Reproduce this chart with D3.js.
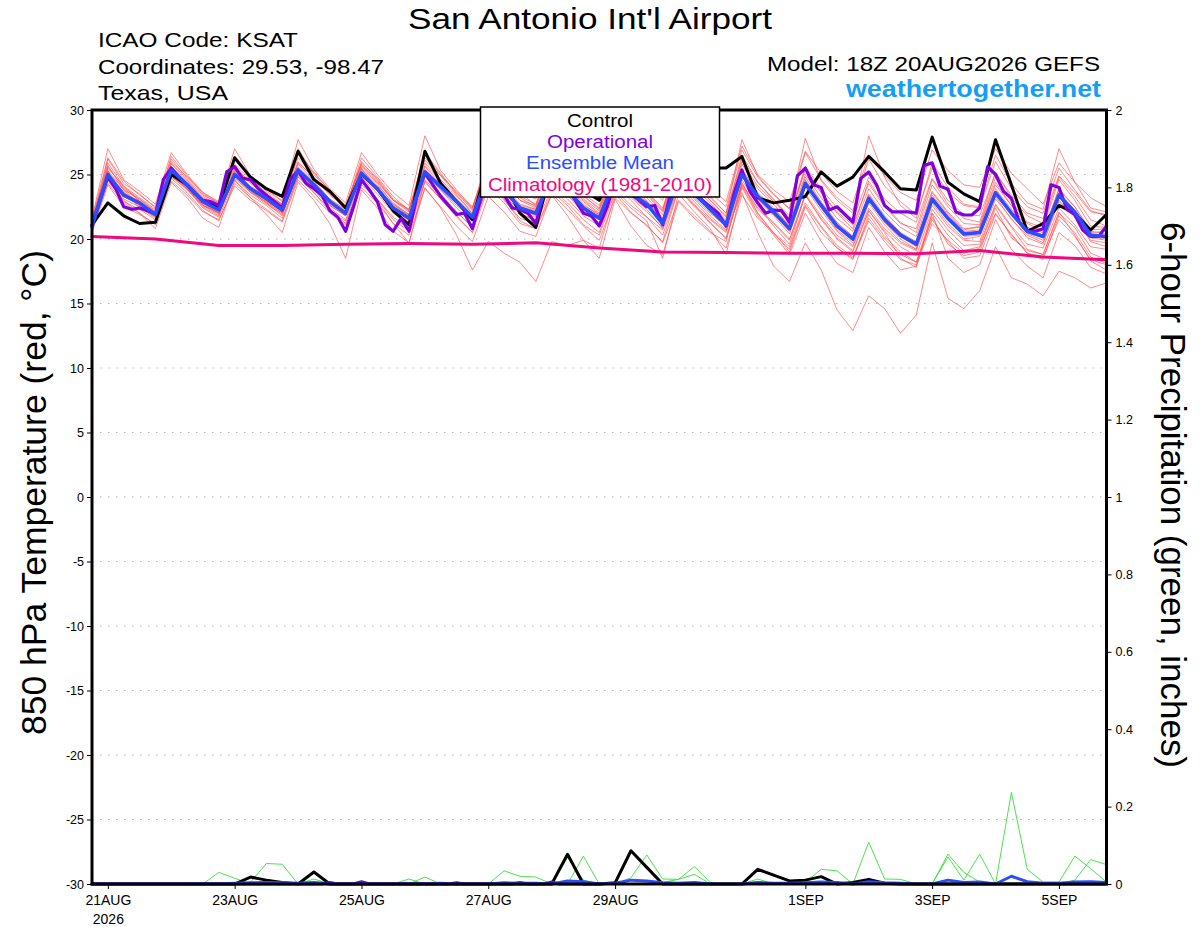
<!DOCTYPE html>
<html>
<head>
<meta charset="utf-8">
<script src="https://cdn.jsdelivr.net/npm/d3@7"></script>
<style>
  html, body { margin: 0; padding: 0; background: #fff; }
  svg { display: block; font-family: "Liberation Sans", Arial, Helvetica, sans-serif; }
</style>
</head>
<body>
<svg id="chart" width="1200" height="927"></svg>
<script>
// ---------------- DATA ----------------
// 6-hourly steps from 18Z 20AUG2026 (index 0) to 384 h (index 64)
const stepHours = 6;
const xTickHours = [6, 54, 102, 150, 198, 270, 318, 366];
const xTickLabels = ["21AUG", "23AUG", "25AUG", "27AUG", "29AUG", "1SEP", "3SEP", "5SEP"];
const yearLabel = "2026";
const tempTicks = [-30, -25, -20, -15, -10, -5, 0, 5, 10, 15, 20, 25, 30];
const precipTicks = [0, 0.2, 0.4, 0.6, 0.8, 1, 1.2, 1.4, 1.6, 1.8, 2];

const controlTemp = [21.1, 22.8, 21.8, 21.2, 21.3, 25.0, 24.2, 22.9, 22.5, 26.3, 24.8, 23.9, 23.3, 26.8, 24.6, 23.7, 22.4,
  25.0, 23.9, 22.2, 21.1, 26.8, 24.3, 22.9, 21.5, 26.0, 24.4, 22.0, 20.9, 25.5, 24.5, 23.8, 23.0, 25.8, 25.0, 24.3, 23.5,
  25.8, 25.6, 25.5, 25.5, 26.4, 23.2, 22.8, 23.0, 23.3, 25.2, 24.1, 24.8, 26.4, 25.2, 23.9, 23.8, 27.9, 24.4, 23.5, 22.9,
  27.7, 24.2, 20.6, 21.2, 22.6, 22.0, 20.7, 21.9];

// operational run is 3-hourly (129 values)
const operationalTemp = [21.0, 23.0, 24.8, 23.9, 22.5, 22.3, 22.4, 22.2, 21.9, 24.6, 25.5, 24.8, 24.2, 23.5, 23.0, 22.9, 22.6,
  25.2, 25.6, 24.7, 24.6, 23.9, 23.4, 22.9, 22.4, 24.6, 25.3, 24.3, 23.9, 23.4, 22.2, 21.7, 20.6,
  22.5, 24.6, 23.8, 22.9, 21.1, 20.6, 21.6, 20.6, 23.3, 25.1, 24.2, 23.3, 22.6, 21.9, 22.0, 20.8,
  23.0, 25.5, 24.5, 23.4, 22.4, 22.3, 22.0, 21.2, 23.5, 25.0, 24.5, 24.0, 23.0, 22.0, 21.8, 21.0,
  22.5, 24.5, 24.0, 23.5, 23.0, 22.5, 22.6, 21.1, 23.5, 25.0, 24.5, 23.8, 23.0, 22.5, 22.0, 21.0,
  23.5, 25.35, 23.7, 22.8, 22.0, 22.25, 22.2, 21.3, 24.9, 25.5, 24.2, 24.0, 22.25, 22.5, 21.9, 21.3,
  24.7, 25.2, 24.2, 22.6, 22.1, 22.1, 22.1, 22.0, 25.7, 25.9, 24.1, 23.85, 22.1, 21.86, 21.86, 22.4,
  25.6, 25.0, 23.7, 23.15, 21.3, 20.6, 20.6, 20.8, 24.2, 24.0, 22.3, 21.9, 20.7, 20.2, 20.2, 21.0];

const meanTemp = [21.0, 25.0, 23.4, 22.8, 21.9, 25.35, 24.2, 22.9, 22.25, 25.0, 23.9, 23.15, 22.25, 25.35, 24.2, 22.9, 22.0,
  25.1, 23.9, 22.4, 21.6, 25.2, 24.05, 22.9, 21.7, 25.0, 23.8, 22.4, 22.0, 24.8, 23.8, 22.4, 21.6, 24.7, 23.5, 22.7, 21.2,
  24.7, 23.5, 22.3, 21.1, 25.0, 23.3, 22.1, 20.8, 24.3, 22.6, 21.0, 20.0, 23.15, 21.5, 20.3, 19.6, 23.1, 21.6, 20.4, 20.5,
  23.6, 22.0, 20.6, 20.2, 23.4, 22.1, 20.3, 20.2];

// climatology (1981-2010), daily values
const climoTemp = [20.2, 20.0, 19.5, 19.5, 19.6, 19.65, 19.6, 19.7, 19.3, 19.0, 18.95, 18.9, 18.9, 18.85, 19.1, 18.6, 18.4];

const member01 = [21.2, 26.2,24.3,23.5,22.4, 26.0,24.8,23.6,22.8, 25.8,24.6,23.9,22.9, 26.3,25.1,23.8,22.6, 25.9,24.7,23.1,22.3, 26.5,25.0,23.6,22.4, 26.0,24.7,23.2,22.5, 25.6,24.5,23.3,22.4, 25.8,24.4,23.6,22.3, 25.9,24.6,23.2,22.0, 26.2,24.4,23.0,21.8, 25.6,23.9,22.4,21.5, 24.8,23.1,22.0,21.3, 24.7,23.0,21.9,21.8, 25.1,23.4,22.0,21.6, 24.9,23.6,22.1,21.9];
const member02 = [20.8, 24.5,22.9,22.3,21.5, 24.8,23.9,22.4,21.7, 24.5,23.4,22.6,21.6, 24.8,23.6,22.3,21.2, 24.4,23.1,21.7,20.8, 24.6,23.3,22.1,20.9, 24.2,23.0,21.6,21.2, 23.9,22.8,21.5,20.5, 23.8,22.6,21.7,20.3, 23.9,22.5,21.3,20.0, 24.2,22.3,21.2,19.9, 23.4,21.6,20.1,19.1, 22.2,20.6,19.4,18.7, 22.3,20.7,19.5,19.6, 22.7,21.0,19.6,19.3, 22.4,21.1,19.4,19.2];
const member03 = [21.4, 25.6,24.0,23.1,22.2, 25.8,24.5,23.3,22.6, 25.7,24.3,23.4,22.7, 25.9,24.8,23.5,22.6, 25.7,24.4,23.0,22.3, 26.1,24.9,23.7,22.5, 25.9,24.9,23.6,23.1, 26.0,25.0,23.9,23.2, 26.3,25.1,24.2,23.0, 26.4,25.2,24.0,22.9, 27.2,25.0,23.8,22.9, 26.8,25.1,23.7,22.8, 26.5,24.9,23.6,23.0, 26.9,25.3,24.2,24.0, 27.0,25.1,23.9,22.7, 25.9,24.4,23.2,22.5];
const member04 = [20.5, 24.2,22.5,21.9,21.2, 24.5,23.4,22.1,21.5, 24.1,23.0,22.2,21.3, 24.6,23.3,22.0,21.1, 24.0,22.8,21.2,20.3, 23.9,22.5,21.0,19.8, 23.3,22.1,20.6,20.2, 23.5,22.3,21.0,19.9, 23.2,22.0,21.1,19.7, 23.0,21.8,20.6,19.3, 23.4,21.6,20.5,19.4, 22.8,21.0,19.5,18.6, 21.6,20.0,18.8,18.2, 21.5,19.8,18.5,18.7, 21.9,20.4,18.9,18.4, 21.8,20.5,18.6,18.1];
const member05 = [21.0, 25.3,23.9,23.0,22.1, 25.5,24.3,22.8,22.0, 25.2,24.1,23.3,22.4, 25.1,24.0,22.6,21.8, 25.4,24.2,22.8,21.9, 25.6,24.3,23.0,21.5, 25.3,24.0,22.6,22.3, 24.9,24.1,22.7,21.8, 25.0,23.7,22.9,21.6, 24.5,23.2,22.0,21.0, 25.4,23.6,22.4,21.0, 24.6,22.8,21.2,20.2, 23.4,21.7,20.5,19.5, 23.6,22.0,20.7,21.0, 24.4,22.6,21.2,20.6, 23.8,22.5,20.7,20.8];
const member06 = [20.9, 25.1,23.6,22.9,22.0, 25.1,24.0,22.6,22.1, 24.9,23.7,23.0,22.1, 25.5,24.3,23.0,22.1, 25.0,23.8,22.2,21.5, 25.0,23.8,22.6,21.6, 24.8,23.5,22.1,21.7, 24.4,23.4,22.0,21.3, 24.2,23.2,22.1,20.9, 24.1,22.9,21.6,20.6, 23.6,20.5,17.9,16.7, 19.7,17.6,14.5,12.9, 15.6,14.6,12.7,14.1, 19.7,15.4,14.6,16.0, 19.4,17.0,16.5,15.6, 17.5,17.0,16.2,16.6];
const member07 = [21.1, 24.8,23.3,22.6,21.8, 25.0,23.9,22.7,22.0, 24.8,23.6,22.7,21.9, 25.2,23.8,22.4,21.5, 24.6,23.0,21.2,19.7, 24.0,22.4,20.3,17.6, 19.8,18.9,18.2,16.7, 19.8,19.5,19.9,19.3, 23.5,22.1,21.0,19.8, 23.9,22.6,21.5,20.5, 24.3,22.4,21.3,20.0, 23.5,21.8,20.3,19.4, 22.4,20.8,19.7,19.1, 22.6,21.0,19.9,19.8, 23.1,21.6,20.1,19.6, 22.9,21.7,19.9,19.7];
const member08 = [21.3, 25.9,24.1,23.2,22.3, 26.4,24.9,23.5,22.7, 26.1,24.8,23.5,22.6, 26.7,25.2,23.7,22.3, 26.0,24.6,23.0,22.1, 26.3,24.9,23.4,22.0, 25.7,24.4,23.0,22.6, 25.8,24.6,23.1,22.2, 25.5,24.2,23.4,22.1, 25.6,24.3,23.0,21.8, 26.5,24.4,23.1,21.6, 25.5,23.6,22.0,20.8, 24.5,22.6,21.3,20.5, 24.2,22.5,21.2,21.1, 24.8,22.9,21.3,20.9, 24.6,23.0,21.0,20.9];
const member09 = [20.6, 24.6,23.0,22.0,20.8, 24.4,23.2,21.6,20.9, 24.6,23.2,21.9,20.5, 24.4,23.0,21.2,18.5, 23.8,22.4,20.6,19.7, 24.5,23.1,21.7,20.5, 24.5,23.1,21.4,20.8, 23.4,21.8,19.9,18.5, 23.1,21.0,19.5,18.8, 22.9,21.6,20.5,19.8, 24.4,22.0,20.4,19.2, 22.6,20.9,19.3,18.4, 21.9,20.2,19.0,18.2, 22.0,20.3,19.1,19.4, 22.6,20.9,19.2,18.8, 22.0,20.9,18.9,18.4];
const member10 = [21.6, 27.0,24.6,23.7,22.7, 26.7,25.0,23.6,22.9, 27.0,24.9,23.7,23.0, 27.7,25.4,23.9,22.8, 26.7,25.0,23.6,22.6, 28.0,25.3,23.8,22.4, 26.4,25.2,23.6,22.6, 26.2,25.0,23.4,22.3, 26.0,24.8,23.5,22.2, 26.2,24.9,23.3,22.0, 27.7,24.9,23.5,22.3, 27.8,24.5,23.0,22.0, 28.0,24.8,22.6,21.6, 25.9,24.0,22.7,22.5, 26.5,24.3,22.8,22.3, 27.0,24.4,22.4,22.1];
const member11 = [20.7, 24.9,23.7,22.4,21.7, 25.2,24.1,22.9,22.3, 25.1,23.8,23.0,22.1, 25.0,24.0,22.7,21.9, 25.2,23.9,22.5,21.4, 25.4,24.2,22.8,21.8, 25.1,23.6,22.3,21.9, 24.7,23.6,22.2,21.5, 24.6,23.4,22.5,21.3, 24.8,23.5,22.1,20.9, 24.9,23.0,21.8,20.4, 24.0,22.2,20.6,19.5, 22.8,21.1,19.8,19.2, 22.8,21.2,20.0,20.2, 23.3,21.5,20.3,19.7, 23.0,21.7,19.8,19.4];
const member12 = [21.2, 25.5,24.1,22.9,21.9, 25.4,24.3,23.0,22.4, 25.3,24.0,22.9,22.2, 25.6,24.4,23.1,22.3, 25.5,23.9,22.7,21.9, 25.2,24.0,23.0,21.8, 25.1,23.9,22.5,22.0, 25.1,23.9,22.6,21.9, 24.9,23.6,22.9,21.5, 24.9,23.8,22.5,21.4, 25.3,23.5,22.3,21.1, 24.8,22.9,21.3,20.2, 23.5,21.8,20.5,19.8, 23.4,21.9,20.6,20.7, 23.9,22.3,20.9,20.3, 23.6,22.2,20.6,20.4];
const member13 = [20.9, 25.0,23.4,22.6,21.9, 25.3,23.9,22.5,21.8, 25.0,23.7,22.8,22.0, 25.2,24.1,22.9,22.0, 24.9,23.7,22.2,21.3, 25.1,23.8,22.4,21.4, 24.8,23.4,21.9,21.5, 24.3,23.1,21.8,21.0, 24.3,23.0,21.7,20.7, 24.0,22.7,21.2,20.1, 24.1,22.0,20.5,19.0, 22.5,20.5,19.3,18.5, 21.4,19.8,18.4,18.0, 21.7,19.6,18.7,19.0, 22.4,20.1,19.1,18.8, 22.1,20.3,18.3,17.6];
const member14 = [21.0, 25.3,23.1,22.5,21.6, 25.9,24.6,23.1,22.3, 25.4,24.0,23.2,22.5, 25.8,24.5,23.1,22.2, 25.6,24.3,22.7,21.8, 25.7,24.5,23.1,22.0, 25.4,24.1,22.7,22.3, 25.1,24.0,22.9,21.9, 25.2,23.9,23.0,21.6, 25.3,24.0,22.8,21.5, 25.8,23.9,22.7,21.3, 25.0,23.2,21.6,20.6, 23.9,22.1,20.9,20.2, 23.7,22.1,20.8,20.9, 24.2,22.6,20.9,20.5, 23.9,22.5,20.5,20.6];
const member15 = [20.8, 24.7,23.3,22.7,21.8, 24.9,23.8,22.6,22.0, 24.7,23.6,22.9,22.0, 25.0,23.9,22.6,21.8, 24.8,23.5,22.0,21.1, 24.9,23.5,22.1,20.9, 24.4,23.3,22.0,21.4, 24.6,23.5,22.1,21.2, 24.4,23.3,22.3,20.8, 24.5,23.1,21.8,20.7, 24.6,22.6,21.0,19.6, 23.4,21.5,20.0,19.0, 22.2,20.5,18.5,17.8, 22.0,18.5,17.4,18.0, 21.5,19.2,17.9,17.0, 20.5,19.5,17.8,17.3];
const member16 = [21.1, 25.7,23.8,23.1,22.1, 25.6,24.4,23.2,22.5, 25.5,24.4,23.5,22.6, 26.0,24.7,23.4,22.5, 25.8,24.5,23.0,22.2, 25.9,24.6,23.3,22.2, 25.6,24.4,23.0,22.4, 25.3,24.2,23.0,22.0, 25.6,24.2,23.2,21.9, 25.5,24.3,23.0,21.7, 26.0,24.1,22.9,21.6, 25.4,23.6,22.1,21.1, 24.3,22.5,21.2,20.8, 24.6,22.7,21.6,21.3, 25.2,23.2,21.8,21.2, 24.8,23.3,21.5,21.0];
const member17 = [20.7, 24.3,22.8,22.0,21.1, 24.7,23.6,22.2,21.4, 24.3,23.2,22.3,21.4, 24.9,23.6,22.1,21.4, 24.2,23.1,21.5,20.6, 24.4,23.1,21.8,20.5, 24.0,22.8,21.2,20.8, 23.7,22.6,21.1,20.3, 23.6,22.4,21.4,18.5, 23.5,22.1,20.8,18.8, 24.0,21.8,20.3,18.8, 22.0,19.8,18.1,17.4, 20.9,19.0,17.6,17.9, 21.2,19.9,18.9,19.3, 22.0,20.3,18.9,18.6, 21.5,20.2,18.4,18.0];
const member18 = [21.5, 26.3,24.5,23.4,22.5, 26.2,24.7,23.4,22.8, 26.4,24.6,23.6,22.7, 27.0,25.0,23.6,22.4, 26.3,24.8,23.3,22.2, 26.7,25.1,23.5,22.3, 26.2,24.7,23.3,22.7, 26.0,24.8,23.5,22.6, 25.9,24.7,23.7,22.4, 26.1,24.9,23.6,22.5, 26.9,24.8,23.4,22.4, 26.7,24.6,23.2,22.2, 26.2,24.1,22.9,21.9, 25.5,23.6,22.6,22.4, 26.0,23.9,22.5,22.0, 25.5,23.8,22.2,21.8];
const member19 = [21.0, 25.0,23.5,22.8,22.0, 25.2,24.1,22.8,22.2, 24.9,23.9,23.0,22.3, 25.3,24.3,22.9,22.1, 25.3,24.0,22.6,21.8, 25.3,24.1,22.9,21.9, 25.0,23.8,22.5,22.2, 24.9,23.8,22.5,21.7, 24.8,23.6,22.7,21.4, 24.7,23.6,22.4,21.2, 25.1,23.3,22.0,20.8, 24.5,22.7,21.0,20.1, 23.3,21.5,20.2,19.4, 23.2,21.6,20.3,20.4, 23.7,22.1,20.5,20.1, 23.3,22.0,20.2,20.0];
const member20 = [20.9, 25.2,23.8,22.7,21.9, 24.9,24.0,22.6,21.9, 25.0,23.8,22.8,21.8, 25.4,24.1,22.8,21.8, 25.1,23.8,22.4,21.5, 25.2,24.0,22.8,21.5, 25.2,23.6,22.3,21.8, 24.8,23.7,22.3,21.5, 24.6,23.5,22.6,21.5, 24.8,23.4,22.2,21.0, 25.0,23.1,21.9,20.6, 24.2,22.4,20.7,19.7, 23.0,21.3,20.0,19.2, 23.1,21.5,20.2,20.3, 23.5,21.9,20.4,19.9, 23.2,21.9,20.1,19.9];
const memberTemps = [member01, member02, member03, member04, member05, member06, member07, member08, member09, member10,
  member11, member12, member13, member14, member15, member16, member17, member18, member19, member20];

// 6-hour precipitation (inches)
const controlPrecip = [0,0,0,0,0, 0,0,0,0, 0,0.018,0.01,0.004, 0,0.031,0,0, 0,0,0,0, 0,0,0,0, 0,0,0,0, 0,0.077,0,0,
  0.003,0.086,0.043,0, 0,0,0,0, 0,0.038,0.023,0.008, 0.01,0.019,0,0.004, 0.012,0.002,0,0, 0,0,0,0, 0,0,0,0, 0,0,0,0];
const operationalPrecip = [0,0,0,0,0, 0,0,0,0, 0,0,0,0, 0,0,0,0, 0,0,0,0, 0,0,0,0, 0,0,0,0, 0,0.004,0,0,
  0,0.006,0,0, 0,0,0,0, 0,0,0,0, 0,0.003,0,0, 0,0,0,0, 0,0.004,0,0, 0,0.005,0,0, 0,0,0,0];
const meanPrecip = [0,0,0,0,0, 0,0,0,0, 0.002,0.003,0.004,0.003, 0.002,0.004,0,0, 0,0,0,0, 0,0.002,0,0, 0,0.003,0.002,0.002, 0,0.008,0.006,0,
  0.002,0.01,0.008,0.003, 0.002,0.004,0,0, 0,0.004,0.002,0.002, 0.003,0.005,0.004,0, 0.006,0.003,0.002,0, 0,0.01,0.004,0.005, 0,0.02,0.006,0.002, 0.002,0.005,0.006,0.004];
const precipMember01 = [0,0,0,0,0, 0,0,0,0.030, 0.015,0,0,0, 0,0,0,0, 0,0,0,0, 0,0,0,0, 0,0,0,0, 0,0,0,0,
  0,0.016,0.075,0.013, 0.012,0.045,0.004,0, 0,0,0,0, 0,0,0,0, 0,0,0,0, 0,0,0,0, 0,0,0,0, 0,0,0,0];
const precipMember02 = [0,0,0,0,0, 0,0,0,0, 0,0.005,0.053,0.051, 0,0,0,0, 0,0,0,0, 0,0,0,0, 0,0,0,0, 0,0,0,0,
  0,0,0,0.004, 0.012,0.025,0,0, 0,0,0,0, 0,0,0,0, 0,0,0,0, 0,0,0,0, 0,0,0,0, 0,0.01,0.063,0.05];
const precipMember03 = [0,0,0,0,0, 0,0,0,0, 0,0,0,0, 0,0.013,0,0, 0,0,0,0.013, 0,0,0,0, 0,0,0,0, 0,0,0,0,
  0,0,0,0, 0,0,0,0, 0,0.013,0,0, 0,0,0,0, 0,0,0,0, 0,0,0,0, 0,0,0,0, 0,0,0,0];
const precipMember04 = [0,0,0,0,0, 0,0,0,0, 0,0,0,0, 0,0,0,0, 0,0,0,0, 0.018,0,0,0, 0,0,0,0, 0,0,0,0,
  0,0,0,0, 0,0,0,0, 0,0,0,0, 0.004,0.038,0.034,0, 0,0,0,0, 0,0,0,0, 0,0,0,0, 0,0,0,0];
const precipMember05 = [0,0,0,0,0, 0,0,0,0, 0,0,0,0, 0,0,0,0, 0,0,0,0, 0,0,0,0, 0,0.034,0.02,0.018, 0,0,0,0,
  0,0,0,0, 0,0,0,0, 0,0,0,0, 0,0,0,0, 0.108,0.013,0.012,0, 0,0,0,0, 0,0,0,0, 0,0,0,0];
const precipMember06 = [0,0,0,0,0, 0,0,0,0, 0,0,0,0, 0,0,0,0, 0,0,0,0, 0,0,0,0, 0,0,0,0, 0,0.069,0.01,0,
  0,0,0,0, 0,0,0,0, 0,0,0,0, 0,0,0,0, 0,0,0,0, 0,0.077,0.03,0.005, 0,0,0,0, 0,0,0,0];
const precipMember07 = [0,0,0,0,0, 0,0,0,0, 0,0,0,0, 0,0,0,0, 0,0,0,0, 0,0,0,0, 0,0,0,0, 0,0,0.072,0,
  0,0,0,0, 0,0,0,0, 0,0,0,0, 0,0,0,0, 0,0,0,0, 0,0.07,0.01,0.077, 0,0,0,0, 0,0,0,0];
const precipMember08 = [0,0,0,0,0, 0,0,0,0, 0,0,0,0, 0,0,0,0, 0,0,0,0, 0,0,0,0, 0,0,0,0, 0,0,0,0,
  0,0,0,0, 0,0,0,0, 0,0,0,0, 0,0,0,0, 0,0,0,0, 0,0,0,0, 0,0.237,0.038,0.005, 0.005,0.072,0.04,0.005];
const memberPrecips = [precipMember01, precipMember02, precipMember03, precipMember04,
  precipMember05, precipMember06, precipMember07, precipMember08];

const legendItems = ["Control", "Operational", "Ensemble Mean", "Climatology (1981-2010)"];
const headLeft = ["ICAO Code: KSAT", "Coordinates: 29.53, -98.47", "Texas, USA"];

// ---------------- DRAWING ----------------
const svg = d3.select("#chart");
const plot = { left: 92, right: 1106.5, top: 110, bottom: 884 };

const x = d3.scaleLinear().domain([0, 384]).range([plot.left, plot.right]);
const yT = d3.scaleLinear().domain([-30, 30]).range([plot.bottom, plot.top]);
const yP = d3.scaleLinear().domain([0, 2]).range([plot.bottom, plot.top]);

const colors = {
  member: "#ff4a4a", precip: "#36e036", control: "#000000", oper: "#8000e0",
  mean: "#2a4dff", climo: "#f0087e", grid: "#b4b4b4", brand: "#169ef5"
};

// gridlines
svg.append("g").selectAll("line")
  .data(tempTicks.filter(t => t > -30 && t < 30))
  .join("line")
  .attr("x1", plot.left).attr("x2", plot.right)
  .attr("y1", d => yT(d)).attr("y2", d => yT(d))
  .attr("stroke", colors.grid).attr("stroke-width", 1.2)
  .attr("stroke-dasharray", "1.5,6.5");

const line6 = (scale) => d3.line().x((d, i) => x(i * stepHours)).y(d => scale(d));
const line3 = (scale) => d3.line().x((d, i) => x(i * 3)).y(d => scale(d));
const line24 = (scale) => d3.line().x((d, i) => x(i * 24)).y(d => scale(d));

const gPlot = svg.append("g");

// ensemble members (temperature)
gPlot.append("g").selectAll("path").data(memberTemps).join("path")
  .attr("d", line6(yT)).attr("fill", "none")
  .attr("stroke", colors.member).attr("stroke-opacity", 0.8).attr("stroke-width", 0.8)
  .attr("stroke-linejoin", "round");

// ensemble members (precip)
gPlot.append("g").selectAll("path").data(memberPrecips).join("path")
  .attr("d", line6(yP)).attr("fill", "none")
  .attr("stroke", colors.precip).attr("stroke-width", 0.9).attr("stroke-linejoin", "round");

function drawLine(data, gen, color, width) {
  gPlot.append("path").datum(data).attr("d", gen).attr("fill", "none")
    .attr("stroke", color).attr("stroke-width", width)
    .attr("stroke-linejoin", "round").attr("stroke-linecap", "round");
}
// precip control / operational / mean
drawLine(controlPrecip, line6(yP), colors.control, 3);
drawLine(operationalPrecip, line3(yP), colors.oper, 3);
drawLine(meanPrecip, line6(yP), colors.mean, 3);
// temperature control / operational / mean / climatology
drawLine(controlTemp, line6(yT), colors.control, 3);
drawLine(operationalTemp, line3(yT), colors.oper, 3.2);
drawLine(meanTemp, line6(yT), colors.mean, 3.6);
drawLine(climoTemp, line24(yT), colors.climo, 3);

// axes
const axisFont = "Liberation Sans, Arial, sans-serif";
const leftAxis = svg.append("g").attr("transform", `translate(${plot.left},0)`)
  .call(d3.axisLeft(yT).tickValues(tempTicks).tickFormat(d => String(d)).tickSizeInner(5).tickSizeOuter(0).tickPadding(3));
const rightAxis = svg.append("g").attr("transform", `translate(${plot.right},0)`)
  .call(d3.axisRight(yP).tickValues(precipTicks).tickFormat(d => String(+d.toFixed(1))).tickSizeInner(5).tickSizeOuter(0).tickPadding(4));
const bottomAxis = svg.append("g").attr("transform", `translate(0,${plot.bottom})`)
  .call(d3.axisBottom(x).tickValues(xTickHours).tickFormat((d, i) => xTickLabels[i]).tickSizeInner(5).tickSizeOuter(0).tickPadding(4));

[leftAxis, rightAxis, bottomAxis].forEach(a => {
  a.select(".domain").remove();
  a.selectAll(".tick line").attr("stroke", "#000").attr("stroke-width", 1);
  a.selectAll(".tick text").attr("fill", "#000").style("font-family", axisFont);
});
leftAxis.selectAll(".tick text").style("font-size", "12.5px");
rightAxis.selectAll(".tick text").style("font-size", "12.5px");
bottomAxis.selectAll(".tick text").style("font-size", "14px").attr("dy", "0.85em");
bottomAxis.selectAll(".tick").filter((d, i) => i === 0).append("text")
  .attr("y", 28).attr("dy", "0.85em").attr("fill", "#000").attr("text-anchor", "middle")
  .style("font-size", "14px").style("font-family", axisFont).text(yearLabel);

// frame
svg.append("rect").attr("x", plot.left).attr("y", plot.top)
  .attr("width", plot.right - plot.left).attr("height", plot.bottom - plot.top)
  .attr("fill", "none").attr("stroke", "#000").attr("stroke-width", 3);

// legend
const lg = svg.append("g");
lg.append("rect").attr("x", 480.5).attr("y", 107).attr("width", 239).attr("height", 90)
  .attr("fill", "#fff").attr("stroke", "#000").attr("stroke-width", 1.5);
const legendColors = [colors.control, colors.oper, colors.mean, colors.climo];
const legendWidths = [66, 106, 148, 224];
lg.selectAll("text").data(legendItems).join("text")
  .attr("x", 600).attr("y", (d, i) => 126.7 + i * 21.35)
  .attr("text-anchor", "middle").attr("fill", (d, i) => legendColors[i])
  .attr("textLength", (d, i) => legendWidths[i]).attr("lengthAdjust", "spacingAndGlyphs")
  .style("font-size", "17.5px").text(d => d);

// titles and header text
svg.append("text").attr("x", 590).attr("y", 29).attr("text-anchor", "middle")
  .attr("textLength", 364).attr("lengthAdjust", "spacingAndGlyphs")
  .style("font-size", "30px").text("San Antonio Int'l Airport");
const headWidths = [200, 286, 130];
svg.append("g").selectAll("text").data(headLeft).join("text")
  .attr("x", 98).attr("y", (d, i) => 47 + i * 26.6)
  .attr("textLength", (d, i) => headWidths[i]).attr("lengthAdjust", "spacingAndGlyphs")
  .style("font-size", "21px").text(d => d);
svg.append("text").attr("x", 1100).attr("y", 71).attr("text-anchor", "end")
  .attr("textLength", 333).attr("lengthAdjust", "spacingAndGlyphs")
  .style("font-size", "20.5px").text("Model: 18Z 20AUG2026 GEFS");
svg.append("text").attr("x", 1101).attr("y", 97).attr("text-anchor", "end")
  .attr("textLength", 255).attr("lengthAdjust", "spacingAndGlyphs")
  .style("font-size", "23px").style("font-weight", "bold").attr("fill", colors.brand)
  .text("weathertogether.net");

// axis titles
svg.append("text").attr("transform", `translate(46,492.5) rotate(-90)`)
  .attr("text-anchor", "middle").style("font-size", "35px")
  .attr("textLength", 485).attr("lengthAdjust", "spacingAndGlyphs")
  .text("850 hPa Temperature (red, °C)");
svg.append("text").attr("transform", `translate(1161,495) rotate(90)`)
  .attr("text-anchor", "middle").style("font-size", "35px")
  .attr("textLength", 546).attr("lengthAdjust", "spacingAndGlyphs")
  .text("6-hour Precipitation (green, inches)");
</script>
</body>
</html>
